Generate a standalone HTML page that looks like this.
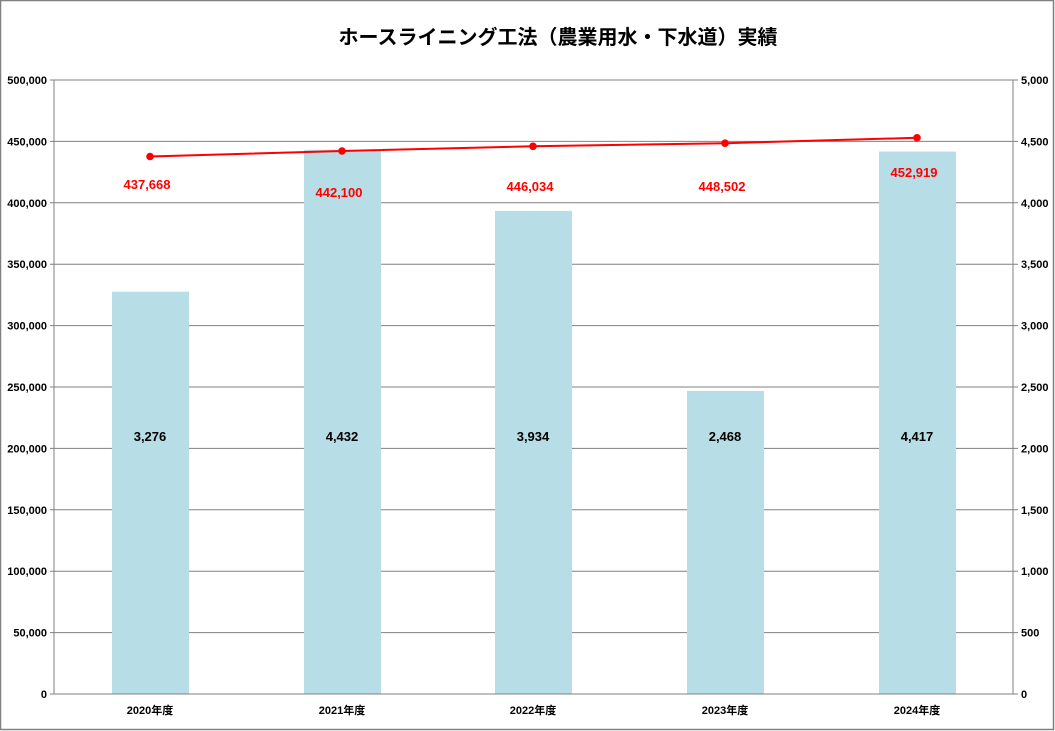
<!DOCTYPE html>
<html><head><meta charset="utf-8"><style>
html,body{margin:0;padding:0;background:#fff}
svg{display:block;font-family:"Liberation Sans","Noto Sans CJK JP",sans-serif}
</style></head><body>
<svg width="1055" height="731" viewBox="0 0 1055 731" xmlns="http://www.w3.org/2000/svg">
<rect x="0.5" y="0.5" width="1053" height="729" fill="#fff" stroke="#808080" stroke-width="1.5"/>
<text x="558" y="44" font-size="20" font-weight="bold" text-anchor="middle" fill="#000">ホースライニング工法（農業用水・下水道）実績</text>
<g stroke="#808080" stroke-width="1">
<line x1="50" y1="80" x2="1018" y2="80"/>
<line x1="50" y1="141.4" x2="1018" y2="141.4"/>
<line x1="50" y1="202.8" x2="1018" y2="202.8"/>
<line x1="50" y1="264.2" x2="1018" y2="264.2"/>
<line x1="50" y1="325.6" x2="1018" y2="325.6"/>
<line x1="50" y1="387" x2="1018" y2="387"/>
<line x1="50" y1="448.4" x2="1018" y2="448.4"/>
<line x1="50" y1="509.8" x2="1018" y2="509.8"/>
<line x1="50" y1="571.2" x2="1018" y2="571.2"/>
<line x1="50" y1="632.6" x2="1018" y2="632.6"/>
</g>
<g fill="#b7dde6">
<rect x="112" y="291.7" width="77" height="402.3"/>
<rect x="304" y="149.8" width="77" height="544.2"/>
<rect x="495" y="210.9" width="77" height="483.1"/>
<rect x="687" y="390.9" width="77" height="303.1"/>
<rect x="879" y="151.6" width="77" height="542.4"/>
</g>
<g stroke="#808080" stroke-width="1">
<line x1="54" y1="80" x2="54" y2="694"/>
<line x1="1013" y1="80" x2="1013" y2="694"/>
<line x1="50" y1="694" x2="1018" y2="694"/>
</g>
<g font-size="11" font-weight="bold" text-anchor="end" fill="#000">
<text x="47" y="84">500,000</text><text x="47" y="145.4">450,000</text><text x="47" y="206.8">400,000</text>
<text x="47" y="268.2">350,000</text><text x="47" y="329.6">300,000</text><text x="47" y="391">250,000</text>
<text x="47" y="452.4">200,000</text><text x="47" y="513.8">150,000</text><text x="47" y="575.2">100,000</text>
<text x="47" y="636.6">50,000</text><text x="47" y="698">0</text>
</g>
<g font-size="11" font-weight="bold" text-anchor="start" fill="#000">
<text x="1021" y="84">5,000</text><text x="1021" y="145.4">4,500</text><text x="1021" y="206.8">4,000</text>
<text x="1021" y="268.2">3,500</text><text x="1021" y="329.6">3,000</text><text x="1021" y="391">2,500</text>
<text x="1021" y="452.4">2,000</text><text x="1021" y="513.8">1,500</text><text x="1021" y="575.2">1,000</text>
<text x="1021" y="636.6">500</text><text x="1021" y="698">0</text>
</g>
<g font-size="11" font-weight="bold" text-anchor="middle" fill="#000">
<text x="150" y="714">2020年度</text><text x="342" y="714">2021年度</text><text x="533" y="714">2022年度</text>
<text x="725" y="714">2023年度</text><text x="917" y="714">2024年度</text>
</g>
<g font-size="13" font-weight="bold" text-anchor="middle" fill="#000">
<text x="150" y="441">3,276</text><text x="342" y="441">4,432</text><text x="533" y="441">3,934</text>
<text x="725" y="441">2,468</text><text x="917" y="441">4,417</text>
</g>
<polyline points="150,156.5 342,151 533,146.3 725,143.2 917,137.8" fill="none" stroke="#ff0000" stroke-width="2"/>
<g fill="#ff0000">
<circle cx="150" cy="156.5" r="3.8"/><circle cx="342" cy="151" r="3.8"/><circle cx="533" cy="146.3" r="3.8"/>
<circle cx="725" cy="143.2" r="3.8"/><circle cx="917" cy="137.8" r="3.8"/>
</g>
<g font-size="13" font-weight="bold" text-anchor="middle" fill="#ff0000">
<text x="147" y="189">437,668</text><text x="339" y="197">442,100</text><text x="530" y="191">446,034</text>
<text x="722" y="191">448,502</text><text x="914" y="177">452,919</text>
</g>
</svg>
</body></html>
